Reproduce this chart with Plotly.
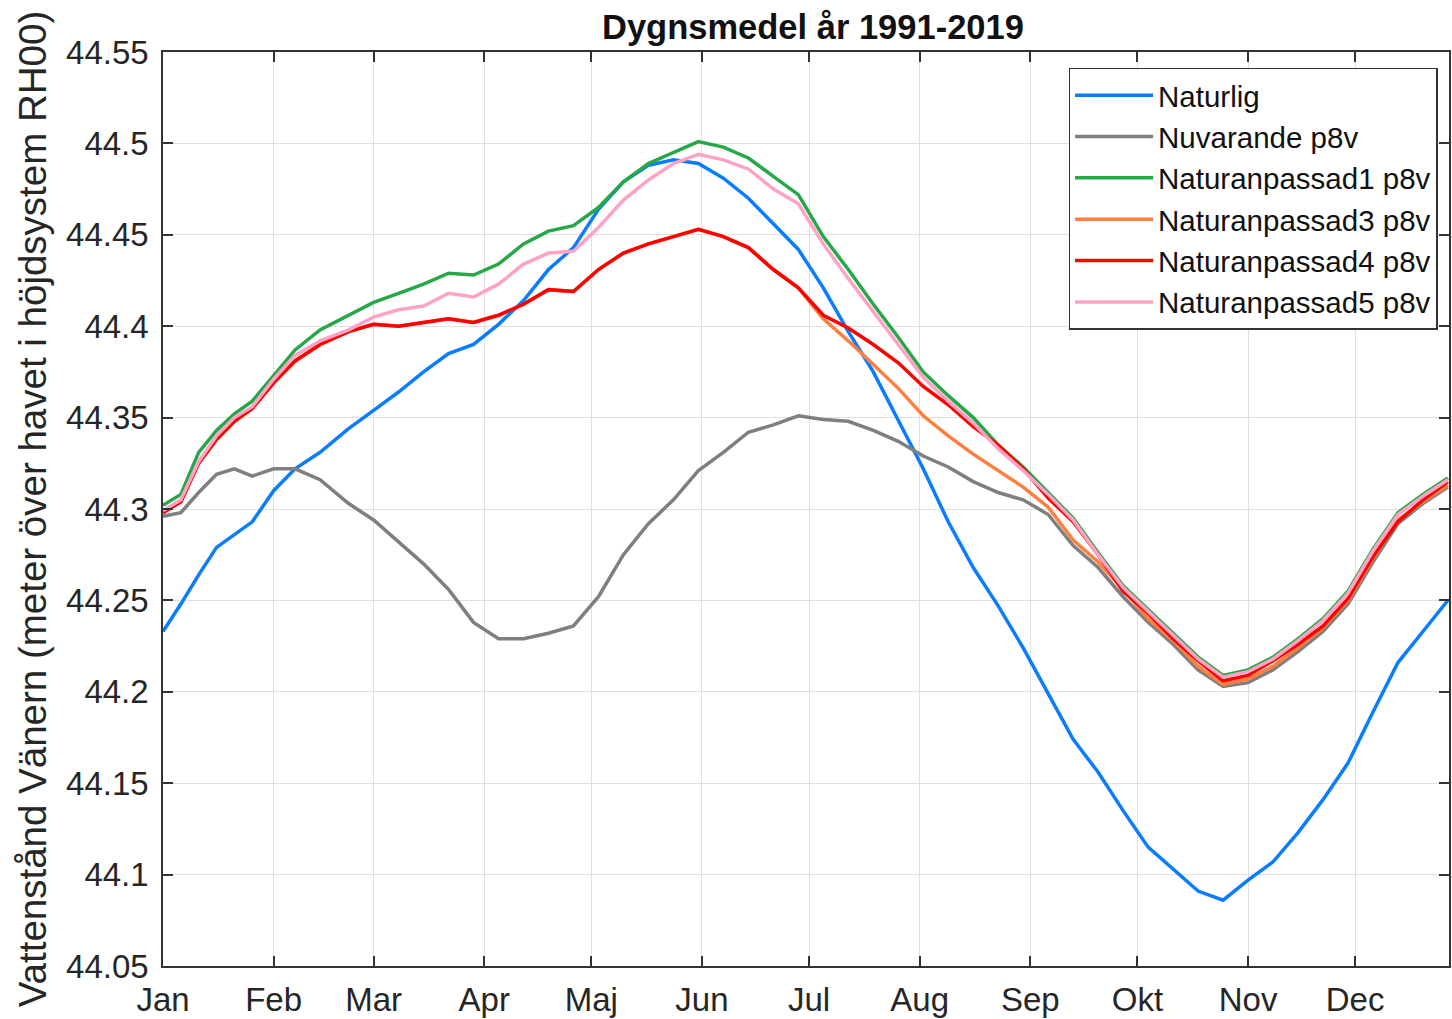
import plotly.graph_objects as go

days = [1, 6, 11, 16, 21, 26, 32, 38, 45, 53, 60, 67, 74, 81, 88, 95, 102, 109, 116, 123,
        130, 137, 144, 151, 158, 165, 172, 179, 186, 193, 200, 207, 214, 221, 228, 235, 242,
        249, 256, 263, 270, 277, 284, 291, 298, 305, 312, 319, 326, 333, 340, 347, 354, 361]

naturlig = [44.233, 44.248, 44.264, 44.279, 44.286, 44.293, 44.310, 44.322, 44.331, 44.344,
            44.354, 44.364, 44.375, 44.385, 44.390, 44.401, 44.414, 44.431, 44.443, 44.464,
            44.479, 44.488, 44.491, 44.489, 44.481, 44.470, 44.456, 44.442, 44.421, 44.397,
            44.375, 44.349, 44.322, 44.293, 44.268, 44.247, 44.224, 44.199, 44.174, 44.156,
            44.135, 44.115, 44.103, 44.091, 44.086, 44.097, 44.107, 44.123, 44.141, 44.161,
            44.189, 44.216, 44.233, 44.250]

nuvarande = [44.296, 44.298, 44.309, 44.319, 44.322, 44.318, 44.322, 44.322, 44.316, 44.303,
             44.294, 44.282, 44.270, 44.256, 44.238, 44.229, 44.229, 44.232, 44.236, 44.252,
             44.275, 44.292, 44.305, 44.321, 44.331, 44.342, 44.346, 44.351, 44.349, 44.348,
             44.343, 44.337, 44.329, 44.323, 44.315, 44.309, 44.305, 44.297, 44.280, 44.268,
             44.252, 44.238, 44.226, 44.212, 44.203, 44.205, 44.212, 44.222, 44.233, 44.248,
             44.271, 44.292, 44.303, 44.312]

nat1 = [44.302, 44.308, 44.331, 44.343, 44.352, 44.359, 44.373, 44.387, 44.398, 44.406,
        44.413, 44.418, 44.423, 44.429, 44.428, 44.434, 44.445, 44.452, 44.455, 44.465,
        44.479, 44.489, 44.495, 44.501, 44.498, 44.492, 44.482, 44.472, 44.449, 44.431,
        44.412, 44.394, 44.375, 44.362, 44.350, 44.335, 44.323, 44.309, 44.295, 44.276,
        44.258, 44.245, 44.232, 44.219, 44.209, 44.212, 44.219, 44.229, 44.240, 44.255,
        44.278, 44.298, 44.308, 44.317]

nat3 = [44.298, 44.304, 44.325, 44.338, 44.348, 44.355, 44.369, 44.381, 44.390, 44.397,
        44.401, 44.400, 44.402, 44.404, 44.402, 44.406, 44.412, 44.420, 44.419, 44.431,
        44.440, 44.445, 44.449, 44.453, 44.449, 44.443, 44.431, 44.421, 44.404, 44.392,
        44.379, 44.366, 44.351, 44.340, 44.330, 44.321, 44.312, 44.301, 44.283, 44.271,
        44.256, 44.240, 44.228, 44.214, 44.204, 44.207, 44.214, 44.224, 44.235, 44.250,
        44.273, 44.294, 44.304, 44.313]

nat4 = [44.298, 44.304, 44.325, 44.338, 44.348, 44.355, 44.369, 44.381, 44.390, 44.397,
        44.401, 44.400, 44.402, 44.404, 44.402, 44.406, 44.412, 44.420, 44.419, 44.431,
        44.440, 44.445, 44.449, 44.453, 44.449, 44.443, 44.431, 44.421, 44.406, 44.399,
        44.390, 44.380, 44.367, 44.357, 44.345, 44.335, 44.322, 44.306, 44.293, 44.275,
        44.255, 44.243, 44.229, 44.217, 44.206, 44.209, 44.217, 44.226, 44.236, 44.251,
        44.274, 44.293, 44.305, 44.315]

nat5 = [44.299, 44.305, 44.326, 44.340, 44.350, 44.356, 44.371, 44.384, 44.392, 44.398,
        44.405, 44.409, 44.411, 44.418, 44.416, 44.423, 44.434, 44.440, 44.441, 44.454,
        44.469, 44.480, 44.489, 44.494, 44.491, 44.486, 44.475, 44.467, 44.445, 44.426,
        44.408, 44.390, 44.372, 44.359, 44.347, 44.333, 44.321, 44.308, 44.294, 44.275,
        44.257, 44.244, 44.231, 44.218, 44.208, 44.211, 44.218, 44.228, 44.239, 44.254,
        44.277, 44.297, 44.307, 44.316]

month_days = [1, 32, 60, 91, 121, 152, 182, 213, 244, 274, 305, 335]
month_labels = ["Jan", "Feb", "Mar", "Apr", "Maj", "Jun", "Jul", "Aug", "Sep", "Okt", "Nov", "Dec"]
y_ticks = [44.05, 44.1, 44.15, 44.2, 44.25, 44.3, 44.35, 44.4, 44.45, 44.5, 44.55]
y_labels = ["44.05", "44.1", "44.15", "44.2", "44.25", "44.3", "44.35", "44.4", "44.45", "44.5", "44.55"]

series = [
    ("Naturlig", naturlig, "#0a7dff"),
    ("Nuvarande p8v", nuvarande, "#7f7f7f"),
    ("Naturanpassad1 p8v", nat1, "#26a848"),
    ("Naturanpassad3 p8v", nat3, "#ff7f40"),
    ("Naturanpassad4 p8v", nat4, "#ff0000"),
    ("Naturanpassad5 p8v", nat5, "#ffa3c6"),
]

FONT = "Liberation Sans, Arial, sans-serif"

fig = go.Figure()
for name, vals, col in series:
    fig.add_trace(go.Scatter(x=days, y=vals, mode="lines", name=name,
                             line=dict(color=col, width=3.5, shape="linear")))

axis_common = dict(
    showgrid=True, gridcolor="#e0e0e0", gridwidth=1,
    ticks="inside", ticklen=10, tickwidth=1.5, tickcolor="#333333",
    showline=True, linecolor="#333333", linewidth=1.5, mirror="ticks",
    zeroline=False, tickfont=dict(family=FONT, size=33, color="#262626"),
)

fig.update_layout(
    width=1452, height=1019,
    margin=dict(l=163, r=1, t=52, b=52),
    paper_bgcolor="white", plot_bgcolor="white",
    font=dict(family=FONT, color="#262626"),
    title=dict(text="<b>Dygnsmedel år 1991-2019</b>", x=0.5054, xref="paper",
               y=1 - 27 / 1019, yref="container", yanchor="middle", xanchor="center",
               font=dict(family=FONT, size=34.5, color="#111111")),
    showlegend=True,
    legend=dict(x=0.9911, y=0.9825, xanchor="right", yanchor="top",
                bgcolor="white", bordercolor="#333333", borderwidth=1.5,
                font=dict(family=FONT, size=29.5, color="#111111"),
                itemwidth=78, tracegroupgap=0),
)
fig.update_xaxes(range=[1, 361.3], tickvals=month_days, ticktext=month_labels,
                 ticklabelstandoff=4, **axis_common)
fig.update_yaxes(range=[44.05, 44.55], tickvals=y_ticks, ticktext=y_labels,
                 ticklabelstandoff=6,
                 title=dict(text="Vattenstånd Vänern (meter över havet i höjdsystem RH00)",
                            font=dict(family=FONT, size=38.5, color="#262626"), standoff=8),
                 **axis_common)

fig.write_html("out.html", config={"displayModeBar": False},
               post_script="document.body.style.margin='0px';")
